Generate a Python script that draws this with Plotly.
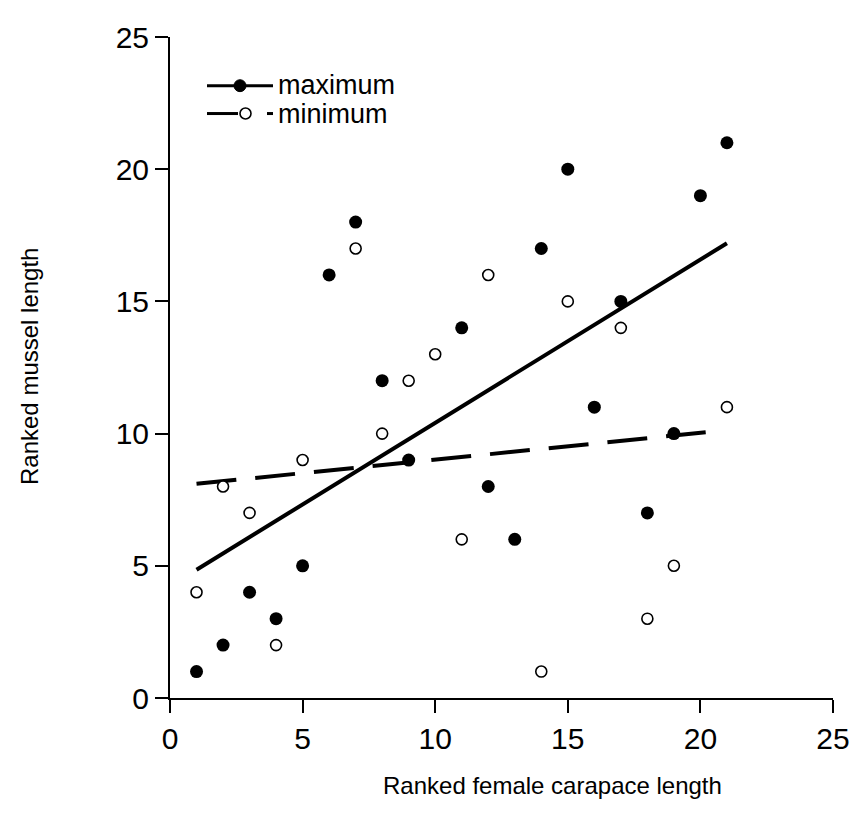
import plotly.graph_objects as go

# ---- data ----
max_x = [1, 2, 3, 4, 5, 6, 7, 8, 9, 11, 12, 13, 14, 15, 16, 17, 18, 19, 20, 21]
max_y = [1, 2, 4, 3, 5, 16, 18, 12, 9, 14, 8, 6, 17, 20, 11, 15, 7, 10, 19, 21]
min_x = [1, 2, 3, 4, 5, 7, 8, 9, 10, 11, 12, 14, 15, 17, 18, 19, 21]
min_y = [4, 8, 7, 2, 9, 17, 10, 12, 13, 6, 16, 1, 15, 14, 3, 5, 11]
max_fit_x = [1, 21]
max_fit_y = [4.85, 17.2]
min_fit_x = [1, 20.2]
min_fit_y = [8.1, 10.05]
tick_vals = [0, 5, 10, 15, 20, 25]
tick_text = ["0", "5", "10", "15", "20", "25"]
legend_labels = ["maximum", "minimum"]
x_title = "Ranked female carapace length"
y_title = "Ranked mussel length"

W, H = 860, 836
OFF = 8  # page body margin
L, R, T, B = 162, 35, 25, 146
FONT = "Liberation Sans, Arial, Helvetica, sans-serif"

def px(x):
    return (x - OFF - L) / (W - L - R)

def py(y):
    return (H - B - (y - OFF)) / (H - T - B)

fig = go.Figure()
fig.add_trace(go.Scatter(x=max_fit_x, y=max_fit_y, mode="lines",
                         line=dict(color="black", width=4), showlegend=False))
fig.add_trace(go.Scatter(x=min_fit_x, y=min_fit_y, mode="lines",
                         line=dict(color="black", width=4, dash="40px,19px"), showlegend=False))
fig.add_trace(go.Scatter(x=max_x, y=max_y, mode="markers",
                         marker=dict(color="black", size=13, line=dict(width=0)),
                         showlegend=False))
fig.add_trace(go.Scatter(x=min_x, y=min_y, mode="markers",
                         marker=dict(color="white", size=11, line=dict(color="black", width=1.6)),
                         showlegend=False))

shapes = []
# legend: maximum
shapes.append(dict(type="line", xref="paper", yref="paper", x0=px(207), x1=px(273),
                   y0=py(82), y1=py(82), line=dict(color="black", width=3)))
shapes.append(dict(type="circle", xref="paper", yref="paper", x0=px(234), x1=px(246),
                   y0=py(88), y1=py(76), fillcolor="black", line=dict(color="black", width=1)))
# legend: minimum
shapes.append(dict(type="line", xref="paper", yref="paper", x0=px(207), x1=px(238),
                   y0=py(110), y1=py(110), line=dict(color="black", width=3)))
shapes.append(dict(type="circle", xref="paper", yref="paper", x0=px(240), x1=px(251),
                   y0=py(115.5), y1=py(104.5), fillcolor="white", line=dict(color="black", width=1.6)))
shapes.append(dict(type="line", xref="paper", yref="paper", x0=px(267), x1=px(273),
                   y0=py(110), y1=py(110), line=dict(color="black", width=3)))

annotations = [
    dict(text=legend_labels[0], xref="paper", yref="paper", x=px(276), y=py(81),
         xanchor="left", yanchor="middle", showarrow=False,
         font=dict(family=FONT, size=27, color="black")),
    dict(text=legend_labels[1], xref="paper", yref="paper", x=px(276), y=py(110),
         xanchor="left", yanchor="middle", showarrow=False,
         font=dict(family=FONT, size=27, color="black")),
    dict(text=x_title, xref="paper", yref="paper", x=px(552), y=py(786),
         xanchor="center", yanchor="middle", showarrow=False,
         font=dict(family=FONT, size=24, color="black")),
    dict(text=y_title, xref="paper", yref="paper", x=px(29), y=py(365),
         xanchor="center", yanchor="middle", showarrow=False, textangle=-90,
         font=dict(family=FONT, size=24, color="black")),
]

axis_common = dict(range=[0, 25], tickvals=tick_vals, ticktext=tick_text,
                   showgrid=False, zeroline=False, showline=True,
                   linecolor="black", linewidth=2, ticks="outside",
                   ticklen=13, tickwidth=2, tickcolor="black",
                   tickfont=dict(family=FONT, size=30, color="black"))

fig.update_layout(
    width=W, height=H,
    margin=dict(l=L, r=R, t=T, b=B),
    plot_bgcolor="white", paper_bgcolor="white",
    xaxis=dict(**axis_common),
    yaxis=dict(**axis_common),
    shapes=shapes, annotations=annotations,
    showlegend=False,
)
fig.write_html("out.html")
